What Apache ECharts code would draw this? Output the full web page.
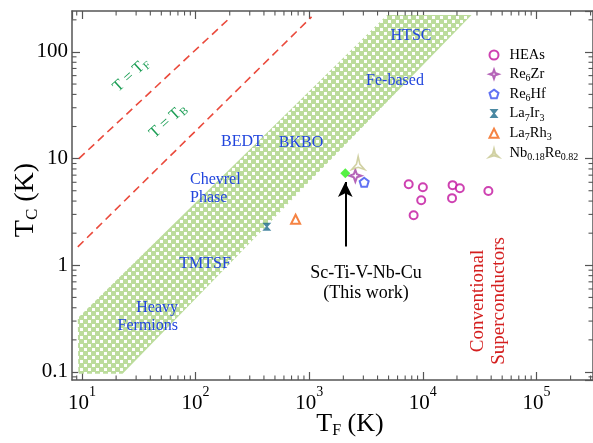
<!DOCTYPE html>
<html><head><meta charset="utf-8">
<script src="https://cdn.jsdelivr.net/npm/echarts@6/dist/echarts.min.js"></script>
<style>html,body{margin:0;padding:0;background:#fff}#c{width:593px;height:443px}</style>
</head><body><div id="c"></div>
<script>
// ---------- data ----------
const heaTF = [7520, 10020, 9690, 8310, 18300, 21200, 18100, 37800];
const heaTC = [5.75, 5.40, 4.07, 2.95, 5.64, 5.28, 4.26, 4.98];
const re6zrTF = [2550], re6zrTC = [6.9];
const re6hfTF = [3050], re6hfTC = [6.0];
const la7ir3TF = [424], la7ir3TC = [2.3];
const la7rh3TF = [760], la7rh3TC = [2.7];
const nbreTF = [2700], nbreTC = [9.1];
const scTF = [2080], scTC = [7.3];
// Uemura band (unconventional superconductors)
const bandTF = [9.3, 9.2, 4850, 26900, 22.8];
const bandTC = [0.096, 0.32, 222, 222, 0.096];
// T = T_F and T = T_B lines
const lineFTF = [9.4, 205], lineFTC = [10, 213];
const lineBTF = [9.2, 1050], lineBTC = [1.49, 213];
// arrow
const arrowTF = [2080], arrowTC = [1.5, 6.05];
// axes
const xMin = 8.18, xMax = 3.15e5, yMin = 0.0841, yMax = 242;
const yMajor = [0.1, 1, 10, 100];
const yLabels = ['0.1', '1', '10', '100'];
const xMinor = [9, 20,30,40,50,60,70,80,90, 200,300,400,500,600,700,800,900,
  2000,3000,4000,5000,6000,7000,8000,9000, 20000,30000,40000,50000,60000,70000,80000,90000, 200000,300000];
const yMinor = [0.09, 0.2,0.3,0.4,0.5,0.6,0.7,0.8,0.9, 2,3,4,5,6,7,8,9, 20,30,40,50,60,70,80,90, 200];
const legendNames = ['HEAs', 'Re6Zr', 'Re6Hf', 'La7Ir3', 'La7Rh3', 'Nb0.18Re0.82'];
const legendRich = {
  'HEAs': 'HEAs', 'Re6Zr': 'Re{s|6}Zr', 'Re6Hf': 'Re{s|6}Hf', 'La7Ir3': 'La{s|7}Ir{s|3}',
  'La7Rh3': 'La{s|7}Rh{s|3}', 'Nb0.18Re0.82': 'Nb{s|0.18}Re{s|0.82}'
};

// ---------- rendering ----------
const font = 'Liberation Serif';
const axisCol = '#555';
const pc = document.createElement('canvas');
pc.width = 8; pc.height = 8;
const g = pc.getContext('2d');
g.fillStyle = '#bcdc9c'; g.fillRect(0, 0, 8, 8);
g.fillStyle = '#ffffff'; g.fillRect(0, 0, 3, 3); g.fillRect(4, 4, 3, 3);

const zip = (a, b) => a.map((v, i) => [v, b[i]]);

const chart = echarts.init(document.getElementById('c'), null, {renderer: 'canvas'});

function baseX(pos, showLabel) {
  return {
    type: 'log', logBase: 10, min: xMin, max: xMax, position: pos,
    axisLine: {show: true, onZero: false, lineStyle: {color: axisCol, width: 1.5}},
    axisTick: {show: true, inside: true, length: 8, lineStyle: {color: axisCol, width: 1.2}},
    splitLine: {show: false}, minorTick: {show: false},
    axisLabel: showLabel ? {
      showMinLabel: false, showMaxLabel: false, margin: 5,
      formatter: v => '{b|10}{s|' + Math.round(Math.log10(v)) + '}',
      rich: {
        b: {fontFamily: font, fontSize: 21, color: '#000'},
        s: {fontFamily: font, fontSize: 14, color: '#000', padding: [0, 0, 22, 0]}
      }
    } : {show: false}
  };
}
function baseY(pos, showLabel) {
  return {
    type: 'log', logBase: 10, min: yMin, max: yMax, position: pos,
    axisLine: {show: true, onZero: false, lineStyle: {color: axisCol, width: 1.5}},
    axisTick: {show: true, inside: true, length: 8, lineStyle: {color: axisCol, width: 1.2}},
    splitLine: {show: false}, minorTick: {show: false},
    axisLabel: showLabel ? {
      showMinLabel: false, showMaxLabel: false, margin: 4,
      fontFamily: font, fontSize: 21, color: '#000',
      formatter: v => { const e = Math.round(Math.log10(v)); const i = yMajor.findIndex(m => Math.round(Math.log10(m)) === e); return i >= 0 ? yLabels[i] : ''; }
    } : {show: false}
  };
}

const green = '#1c9e55', blue = '#2145dd', red = '#d41f1f';
function txt(x, y, text, opts) {
  return Object.assign({type: 'text', x: x, y: y, silent: true, z: 100,
    style: Object.assign({text: text, fill: opts.fill || '#000', font: (opts.size || 16) + 'px "' + font + '"',
      align: opts.align || 'center', verticalAlign: 'middle', lineHeight: opts.lh},
      opts.rich ? {rich: opts.rich} : {})}, opts.rotation !== undefined ? {rotation: opts.rotation} : {});
}

const option = {
  animation: false,
  grid: {left: 72, top: 11, right: -3, bottom: 63},
  xAxis: [baseX('bottom', true), baseX('top', false)],
  yAxis: [baseY('left', true), baseY('right', false)],
  legend: {
    orient: 'vertical', left: 483.5, top: 41, itemWidth: 9, itemHeight: 9, itemGap: 0.7,
    selectedMode: false, data: legendNames,
    formatter: n => legendRich[n],
    textStyle: {fontFamily: font, fontSize: 14.5, color: '#000', lineHeight: 18, padding: [0, 0, 0, 6],
      rich: {s: {fontFamily: font, fontSize: 10, color: '#000', lineHeight: 9, padding: [9, 0, 0, 0]}}}
  },
  series: [
    {
      type: 'custom', name: 'band', silent: true, z: 1,
      data: [[bandTF[0], bandTC[0]]],
      renderItem: (params, api) => ({
        type: 'polygon',
        shape: {points: bandTF.map((v, i) => api.coord([v, bandTC[i]]))},
        style: {fill: {image: pc, repeat: 'repeat'}, stroke: null}
      })
    },
    {type: 'line', name: 'TF', silent: true, showSymbol: false, symbol: 'none', z: 2,
     data: zip(lineFTF, lineFTC), lineStyle: {color: '#ea4a3c', width: 1.6, type: [8, 5]}},
    {type: 'line', name: 'TB', silent: true, showSymbol: false, symbol: 'none', z: 2,
     data: zip(lineBTF, lineBTC), lineStyle: {color: '#ea4a3c', width: 1.6, type: [8, 5]}},
    {type: 'custom', name: 'xminor', silent: true, z: 3, clip: false,
     data: xMinor.map(v => [v, 1]),
     renderItem: (params, api) => {
       const cs = params.coordSys; const p = api.coord([api.value(0), 1]);
       const b = cs.y + cs.height, t = cs.y;
       return {type: 'group', children: [
         {type: 'line', shape: {x1: p[0], y1: b, x2: p[0], y2: b - 4.5}, style: {stroke: axisCol, lineWidth: 1.1}},
         {type: 'line', shape: {x1: p[0], y1: t, x2: p[0], y2: t + 4.5}, style: {stroke: axisCol, lineWidth: 1.1}}
       ]};
     }},
    {type: 'custom', name: 'yminor', silent: true, z: 3, clip: false,
     data: yMinor.map(v => [100, v]),
     renderItem: (params, api) => {
       const cs = params.coordSys; const p = api.coord([100, api.value(1)]);
       const l = cs.x, r = cs.x + cs.width;
       return {type: 'group', children: [
         {type: 'line', shape: {x1: l, y1: p[1], x2: l + 4.5, y2: p[1]}, style: {stroke: axisCol, lineWidth: 1.1}},
         {type: 'line', shape: {x1: r, y1: p[1], x2: r - 4.5, y2: p[1]}, style: {stroke: axisCol, lineWidth: 1.1}}
       ]};
     }},
    {type: 'scatter', name: 'HEAs', z: 5, symbol: 'circle', symbolSize: 8,
     data: zip(heaTF, heaTC), itemStyle: {color: '#fff', borderColor: '#c2129e', borderWidth: 2}},
    {type: 'scatter', name: 'Re6Zr', z: 5,
     symbol: 'path://M0,-10 L2.6,-2.6 L10,0 L2.6,2.6 L0,10 L-2.6,2.6 L-10,0 L-2.6,-2.6 Z', symbolSize: 12,
     data: zip(re6zrTF, re6zrTC), itemStyle: {color: '#fff', borderColor: '#a23fa6', borderWidth: 2}},
    {type: 'scatter', name: 'Re6Hf', z: 5,
     symbol: 'path://M0,-10 L9.5,-3.1 L5.9,8.1 L-5.9,8.1 L-9.5,-3.1 Z', symbolSize: 9,
     data: zip(re6hfTF, re6hfTC), itemStyle: {color: '#fff', borderColor: '#3a4ff0', borderWidth: 2}},
    {type: 'scatter', name: 'La7Ir3', z: 5,
     symbol: 'path://M-5,-5 L5,-5 L1,0 L5,5 L-5,5 L-1,0 Z', symbolSize: [9, 8],
     data: zip(la7ir3TF, la7ir3TC), itemStyle: {color: '#1d6c8c'}},
    {type: 'scatter', name: 'La7Rh3', z: 5, symbol: 'triangle', symbolSize: 9,
     data: zip(la7rh3TF, la7rh3TC), itemStyle: {color: '#fff', borderColor: '#f26414', borderWidth: 2}},
    {type: 'scatter', name: 'Nb0.18Re0.82', z: 5,
     symbol: 'path://M0,-10 L2.2,-1.3 L8.7,5 L0,2.5 L-8.7,5 L-2.2,-1.3 Z', symbolSize: 13,
     data: zip(nbreTF, nbreTC), itemStyle: {color: '#fff', borderColor: '#c6c68c', borderWidth: 1.6}},
    {type: 'scatter', name: 'Sc-Ti-V-Nb-Cu', z: 6, symbol: 'diamond', symbolSize: 10,
     data: zip(scTF, scTC), itemStyle: {color: '#2aee14'},
     markLine: {silent: true, symbol: ['none', 'arrow'], symbolSize: [11, 15], animation: false,
       lineStyle: {color: '#000', width: 2, type: 'solid'}, label: {show: false},
       data: [[{coord: [arrowTF[0], arrowTC[0]]}, {coord: [arrowTF[0], arrowTC[1]]}]]}}
  ],
  graphic: [
    txt(131, 75, 'T = T{s|F}', {fill: green, size: 16, rotation: 42 * Math.PI / 180,
      rich: {s: {fontFamily: font, fontSize: 11, fill: green, padding: [8, 0, 0, 0]}}}),
    txt(168, 121, 'T = T{s|B}', {fill: green, size: 16, rotation: 42 * Math.PI / 180,
      rich: {s: {fontFamily: font, fontSize: 11, fill: green, padding: [8, 0, 0, 0]}}}),
    txt(242, 142, 'BEDT', {fill: blue, size: 16}),
    txt(301, 143, 'BKBO', {fill: blue, size: 16}),
    txt(190, 189, 'Chevrel\nPhase', {fill: blue, size: 16, align: 'left', lh: 18}),
    txt(205, 264, 'TMTSF', {fill: blue, size: 16}),
    txt(178, 317, 'Heavy\nFermions', {fill: blue, size: 16, align: 'right', lh: 18}),
    txt(411, 36, 'HTSC', {fill: blue, size: 16}),
    txt(395, 81, 'Fe-based', {fill: blue, size: 16}),
    txt(366, 283, 'Sc-Ti-V-Nb-Cu\n(This work)', {fill: '#000', size: 18, lh: 20}),
    txt(489, 301, 'Conventional\nSuperconductors', {fill: red, size: 19, lh: 21, rotation: Math.PI / 2}),
    txt(26, 200, 'T{s|C} (K)', {fill: '#000', size: 28, rotation: Math.PI / 2,
      rich: {s: {fontFamily: font, fontSize: 17, fill: '#000', padding: [14, 0, 0, 0]}}}),
    txt(350, 424, 'T{s|F} (K)', {fill: '#000', size: 26,
      rich: {s: {fontFamily: font, fontSize: 16, fill: '#000', padding: [14, 0, 0, 0]}}})
  ]
};
chart.setOption(option);
</script>
</body></html>
